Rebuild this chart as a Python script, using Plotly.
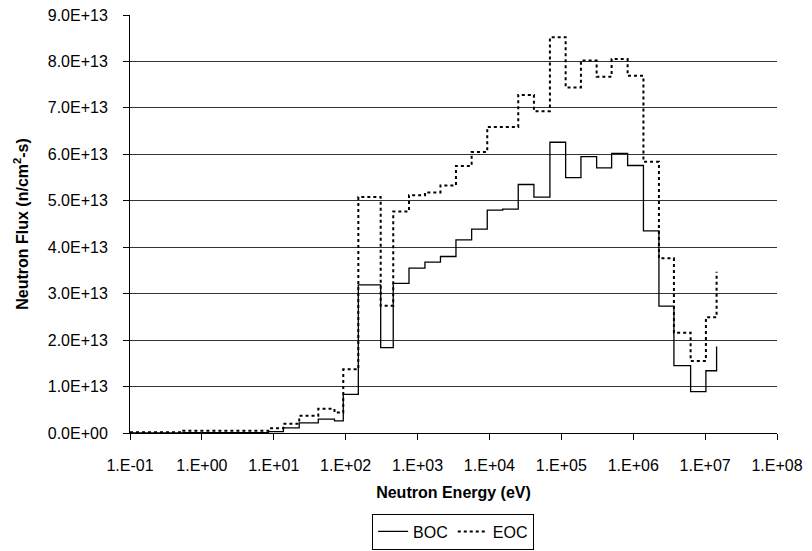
import plotly.graph_objects as go

# Energy group boundaries (eV) and flux values (n/cm^2-s)
energy = [0.1, 0.55, 8.4, 13.6, 22.6, 41.6, 69.9, 92.6, 150, 307, 459, 760,
          1267, 2083, 3421, 5654, 9321, 15310, 25150, 41560, 69390, 114800,
          187400, 309700, 500600, 835800, 1.387e6, 2.278e6, 3.682e6, 6.286e6,
          1.026e7, 1.445e7]

boc = [0.002, 0.005, 0.03, 0.11, 0.22, 0.30, 0.26, 0.83, 3.19, 1.84, 3.22, 3.55,
       3.68, 3.80, 4.16, 4.39, 4.80, 4.82, 5.35, 5.08, 6.26, 5.50, 5.95, 5.71,
       6.02, 5.76, 4.35, 2.73, 1.45, 0.89, 1.34, 1.86]
boc = [v * 1e13 for v in boc]

eoc = [0.015, 0.05, 0.10, 0.20, 0.37, 0.52, 0.44, 1.37, 5.08, 2.74, 4.77, 5.12,
       5.18, 5.33, 5.75, 6.05, 6.59, 6.59, 7.28, 6.93, 8.52, 7.44, 8.02, 7.67,
       8.05, 7.69, 5.84, 3.76, 2.16, 1.55, 2.49, 3.47]
eoc = [v * 1e13 for v in eoc]

x_tickvals = [10.0 ** k for k in range(-1, 9)]
x_ticktext = ["1.E-01", "1.E+00", "1.E+01", "1.E+02", "1.E+03", "1.E+04",
              "1.E+05", "1.E+06", "1.E+07", "1.E+08"]
y_tickvals = [k * 1e13 for k in range(0, 10)]
y_ticktext = ["0.0E+00", "1.0E+13", "2.0E+13", "3.0E+13", "4.0E+13", "5.0E+13",
              "6.0E+13", "7.0E+13", "8.0E+13", "9.0E+13"]

FONT = "Arial, 'Liberation Sans', sans-serif"

fig = go.Figure()
fig.add_trace(go.Scatter(x=energy, y=boc, mode="lines", name="BOC",
                         line=dict(color="black", width=1.3, shape="hv")))
fig.add_trace(go.Scatter(x=energy, y=eoc, mode="lines", name="EOC",
                         line=dict(color="black", width=2, shape="hv", dash="dot")))

fig.update_layout(
    width=812, height=551,
    margin=dict(l=130, r=35, t=15, b=118),
    paper_bgcolor="white", plot_bgcolor="white",
    font=dict(family=FONT, size=16, color="black"),
    showlegend=True,
    legend=dict(orientation="h", x=0.558, xanchor="center", xref="container",
                y=0.068, yanchor="top", yref="container",
                bordercolor="black", borderwidth=1, font=dict(size=16),
                tracegroupgap=0, itemwidth=30),
    xaxis=dict(type="log", range=[-1, 8], tickvals=x_tickvals, ticktext=x_ticktext,
               showgrid=False, showline=True, linecolor="black", linewidth=1,
               ticks="outside", ticklen=6, tickcolor="black",
               ticklabelstandoff=12, zeroline=False, automargin=False,
               title=dict(text="<b>Neutron Energy (eV)</b>",
                          font=dict(size=16), standoff=13)),
    yaxis=dict(range=[0, 9e13], tickvals=y_tickvals, ticktext=y_ticktext,
               showgrid=True, gridcolor="#333333", gridwidth=1,
               showline=True, linecolor="black", linewidth=1,
               ticks="outside", ticklen=6, tickcolor="black", zeroline=False,
               ticklabelstandoff=12, automargin=False,
               title=dict(text="<b>Neutron Flux (n/cm<sup>2</sup>-s)</b>",
                          font=dict(size=16), standoff=15)),
)

fig.write_html("out.html")
